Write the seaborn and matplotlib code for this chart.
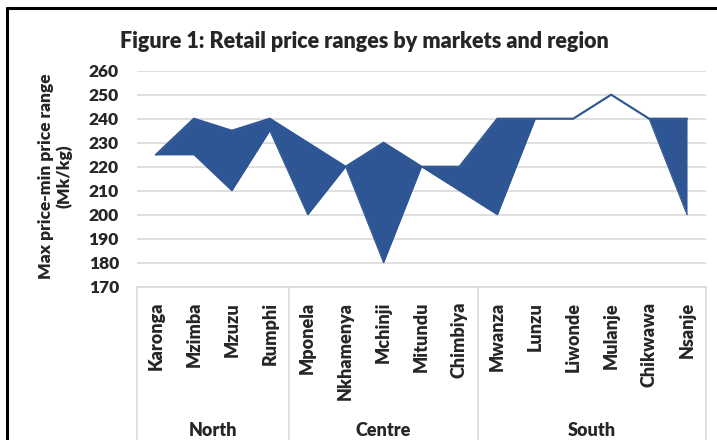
import matplotlib
matplotlib.use('Agg')
import matplotlib.pyplot as plt
import seaborn as sns
import pandas as pd
from matplotlib.lines import Line2D

# Market price data (Mk/kg)
markets = ['Karonga', 'Mzimba', 'Mzuzu', 'Rumphi',
           'Mponela', 'Nkhamenya', 'Mchinji', 'Mitundu', 'Chimbiya',
           'Mwanza', 'Lunzu', 'Liwonde', 'Mulanje', 'Chikwawa', 'Nsanje']
regions = ['North', 'Centre', 'South']
region_sizes = [4, 5, 6]
max_price = [225, 240, 235, 240, 230, 220, 230, 220, 220, 240, 240, 240, 250, 240, 240]
min_price = [225, 225, 210, 235, 200, 220, 180, 220, 210, 200, 240, 240, 250, 240, 200]

df = pd.DataFrame({'market': markets, 'pos': range(len(markets)),
                   'max_price': max_price, 'min_price': min_price})

sns.set_theme(style='white')
plt.rcParams['font.family'] = ['Lato', 'DejaVu Sans']
plt.rcParams['font.weight'] = 'bold'

blue = '#2E5594'
grid = '#D9D9D9'

fig = plt.figure(figsize=(7.17, 4.4), dpi=100)
ax = fig.add_axes([137 / 717, 1 - 286.7 / 440, (706 - 137) / 717, (286.7 - 70.7) / 440])

ax.fill_between(df['pos'], df['min_price'], df['max_price'], color=blue, lw=0)
sns.lineplot(data=df, x='pos', y='max_price', color=blue, lw=1.5, ax=ax)
sns.lineplot(data=df, x='pos', y='min_price', color=blue, lw=0.8, ax=ax)

ax.set_xlim(-0.5, len(markets) - 0.5)
ax.set_ylim(170, 260)
ax.set_yticks(range(170, 261, 10))
ax.yaxis.grid(True, color=grid, lw=1.2)
ax.set_axisbelow(True)
for s in ['top', 'right', 'left']:
    ax.spines[s].set_visible(False)
ax.spines['bottom'].set_color(grid)
ax.spines['bottom'].set_linewidth(1.2)

ax.set_xticks(df['pos'])
ax.set_xticklabels(markets, rotation=90, va='top', ha='center', fontsize=13, fontweight='heavy')
ax.tick_params(axis='x', length=0, pad=11)
ax.tick_params(axis='y', length=0, pad=13, labelsize=12.5)
for t in ax.get_yticklabels():
    t.set_fontweight('heavy')
ax.set_xlabel('')
ax.set_ylabel('')

# region boxes under the axis
tr = ax.get_xaxis_transform()
bottom = -(440 - 286.7) / 216
edges = [-0.5]
for n in region_sizes:
    edges.append(edges[-1] + n)
for e in edges:
    ax.add_line(Line2D([e, e], [0, bottom], transform=tr, color=grid, lw=1.2, clip_on=False))
for i, r in enumerate(regions):
    c = (edges[i] + edges[i + 1]) / 2
    ax.text(c, -(430 - 286.7) / 216, r, transform=tr, ha='center', va='center',
            fontsize=13, fontweight='heavy')

fig.text(55 / 717, 1 - 176 / 440, 'Max price-min price range\n(Mk/kg)', rotation=90,
         ha='center', va='center', fontsize=12.5, fontweight='heavy', linespacing=1.15)
fig.text(364 / 717, 1 - 42 / 440, 'Figure 1: Retail price ranges by markets and region',
         ha='center', va='center', fontsize=15.5, fontweight='heavy')

# outer chart border (top and left visible)
fig.add_artist(Line2D([7 / 717, 1], [1 - 8 / 440, 1 - 8 / 440], transform=fig.transFigure, color='black', lw=2.2))
fig.add_artist(Line2D([7 / 717, 7 / 717], [0, 1 - 8 / 440], transform=fig.transFigure, color='black', lw=2.2))

fig.savefig('out.png', dpi=100)
